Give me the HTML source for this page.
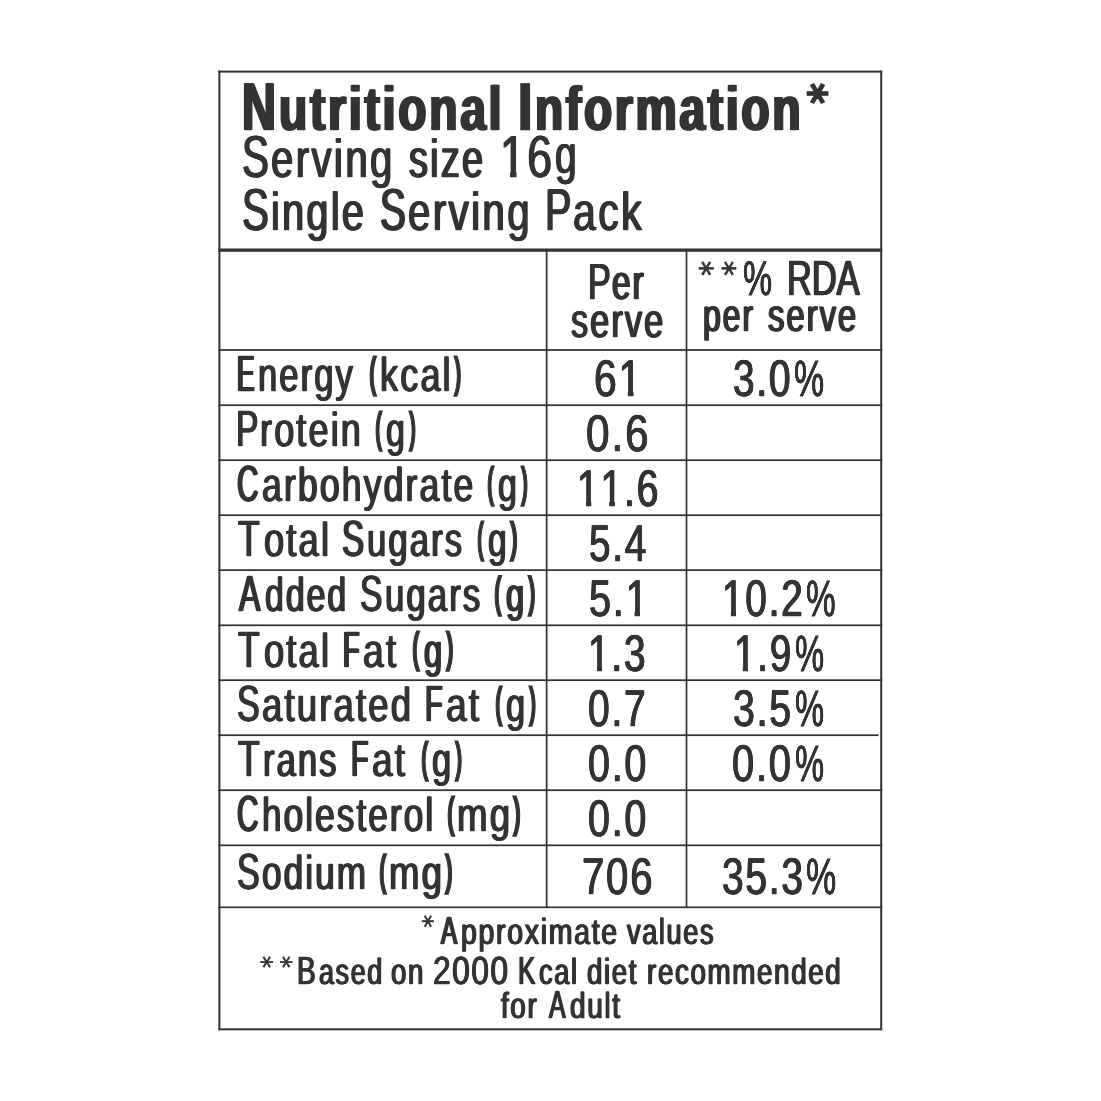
<!DOCTYPE html>
<html lang="en">
<head>
<meta charset="utf-8">
<title>Nutritional Information</title>
<style>
html,body{margin:0;padding:0;background:#ffffff;}
body{width:1101px;height:1101px;position:relative;overflow:hidden;font-family:"Liberation Sans",sans-serif;color:#333333;}
.rules{position:absolute;left:0;top:0;display:block;}
.label,.head,.cols,.rows,.row,.cell,.line,.foot{position:static;margin:0;padding:0;}
.t{position:absolute;white-space:pre;line-height:1;transform-origin:0 0;margin:0;padding:0;font-weight:400;text-rendering:geometricPrecision;}
.b{font-weight:700;}
.o{display:inline-block;clip-path:polygon(0 0,100% 0,100% .725em,.361em .725em,.361em 100%,.231em 100%,.231em .725em,0 .725em);}
</style>
</head>
<body>
<svg class="rules" width="1101" height="1101" viewBox="0 0 1101 1101" aria-hidden="true"><g fill="#333333"><rect x="218.40" y="70.60" width="663.80" height="2.00"/><rect x="218.40" y="1028.30" width="663.80" height="2.00"/><rect x="218.40" y="70.60" width="2.00" height="959.70"/><rect x="880.20" y="70.60" width="2.00" height="959.70"/><rect x="218.40" y="248.50" width="663.80" height="3.30"/><rect x="218.40" y="349.12" width="663.80" height="1.76"/><rect x="218.40" y="404.32" width="663.80" height="1.75"/><rect x="218.40" y="459.32" width="663.80" height="1.75"/><rect x="218.40" y="514.33" width="663.80" height="1.75"/><rect x="218.40" y="569.27" width="663.80" height="1.75"/><rect x="218.40" y="624.42" width="663.80" height="1.75"/><rect x="218.40" y="679.33" width="663.80" height="1.75"/><rect x="218.40" y="734.33" width="660.10" height="1.75"/><rect x="218.40" y="789.33" width="663.80" height="1.75"/><rect x="218.40" y="844.42" width="663.80" height="1.75"/><rect x="218.40" y="906.42" width="663.80" height="1.75"/><rect x="545.77" y="250.00" width="1.75" height="657.30"/><rect x="685.62" y="250.00" width="1.75" height="657.30"/></g></svg>
<main class="label">
<header class="head">
<div class="line title"><span class="t b" style="left:242px;top:73px;font-size:68px;transform:scale(0.6909,1);-webkit-text-stroke:0.3px #333333;text-shadow:1.88px 0 0 #333333,-1.88px 0 0 #333333;">N</span><span class="t b" style="left:279px;top:79px;font-size:62.25px;transform:scale(0.7421,1);-webkit-text-stroke:0.3px #333333;text-shadow:1.82px 0 0 #333333,-1.82px 0 0 #333333;letter-spacing:0.06em;">utritional</span> <span class="t b" style="left:516px;top:73px;font-size:68px;transform:scale(0.9737,1);-webkit-text-stroke:0.3px #333333;">I</span><span class="t b" style="left:535px;top:79px;font-size:62.25px;transform:scale(0.7403,1);-webkit-text-stroke:0.3px #333333;text-shadow:1.82px 0 0 #333333,-1.82px 0 0 #333333;letter-spacing:0.06em;">nformation</span><span class="t b" style="left:832px;top:83px;font-size:70px;transform:scale(0.632,0.5742) rotate(90deg);font-family:'DejaVu Sans',sans-serif;-webkit-text-stroke:2.2px #333333;">*</span></div>
<div class="line"><span class="t" style="left:242px;top:127px;font-size:59.25px;transform:scale(0.6814,1);-webkit-text-stroke:0.3px #333333;text-shadow:1.25px 0 0 #333333,-1.25px 0 0 #333333;">S</span><span class="t" style="left:271px;top:133px;font-size:53.5px;transform:scale(0.75,1);-webkit-text-stroke:0.3px #333333;text-shadow:1.13px 0 0 #333333,-1.13px 0 0 #333333;letter-spacing:0.06em;">erving</span> <span class="t" style="left:409px;top:133px;font-size:53.5px;transform:scale(0.7067,1);-webkit-text-stroke:0.3px #333333;text-shadow:1.34px 0 0 #333333,-1.34px 0 0 #333333;letter-spacing:0.06em;">size</span> <span class="t" style="left:500px;top:127px;font-size:59.25px;transform:scale(0.7596,1);-webkit-text-stroke:0.3px #333333;text-shadow:0.86px 0 0 #333333,-0.86px 0 0 #333333;letter-spacing:0.045em;"><span class="o">1</span>6</span><span class="t" style="left:555px;top:128px;font-size:53px;transform:scale(0.735,1.0187);-webkit-text-stroke:0.3px #333333;text-shadow:1.09px 0 0 #333333,-1.09px 0 0 #333333;">g</span></div>
<div class="line"><span class="t" style="left:242px;top:180px;font-size:59.25px;transform:scale(0.6814,1);-webkit-text-stroke:0.3px #333333;text-shadow:1.25px 0 0 #333333,-1.25px 0 0 #333333;">S</span><span class="t" style="left:271px;top:186px;font-size:53.5px;transform:scale(0.738,1);-webkit-text-stroke:0.3px #333333;text-shadow:1.15px 0 0 #333333,-1.15px 0 0 #333333;letter-spacing:0.06em;">ingle</span> <span class="t" style="left:380px;top:180px;font-size:59.25px;transform:scale(0.6529,1);-webkit-text-stroke:0.3px #333333;text-shadow:1.38px 0 0 #333333,-1.38px 0 0 #333333;">S</span><span class="t" style="left:408px;top:186px;font-size:53.5px;transform:scale(0.7518,1);-webkit-text-stroke:0.3px #333333;text-shadow:1.13px 0 0 #333333,-1.13px 0 0 #333333;letter-spacing:0.06em;">erving</span> <span class="t" style="left:545px;top:180px;font-size:59.25px;transform:scale(0.6706,1);-webkit-text-stroke:0.3px #333333;text-shadow:1.27px 0 0 #333333,-1.27px 0 0 #333333;">P</span><span class="t" style="left:573px;top:186px;font-size:53.5px;transform:scale(0.7649,1);-webkit-text-stroke:0.3px #333333;text-shadow:1.05px 0 0 #333333,-1.05px 0 0 #333333;letter-spacing:0.06em;">ack</span></div>
</header>
<div class="cols">
<div class="cell"></div>
<div class="cell"><span class="t" style="left:588px;top:257px;font-size:50.75px;transform:scale(0.6746,1);-webkit-text-stroke:0.3px #333333;text-shadow:1.26px 0 0 #333333,-1.26px 0 0 #333333;">P</span><span class="t" style="left:612px;top:259px;font-size:49px;transform:scale(0.6793,1);-webkit-text-stroke:0.3px #333333;text-shadow:1.32px 0 0 #333333,-1.32px 0 0 #333333;letter-spacing:0.06em;">er</span> <span class="t" style="left:571px;top:298px;font-size:48px;transform:scale(0.7148,1);-webkit-text-stroke:0.3px #333333;text-shadow:1.19px 0 0 #333333,-1.19px 0 0 #333333;letter-spacing:0.06em;">serve</span></div>
<div class="cell"><span class="t" style="left:716px;top:261px;font-size:48px;transform:scale(0.6565,0.615) rotate(90deg);font-family:'DejaVu Sans',sans-serif;-webkit-text-stroke:1.2px #333333;">*</span><span class="t" style="left:739px;top:261px;font-size:48px;transform:scale(0.6466,0.615) rotate(90deg);font-family:'DejaVu Sans',sans-serif;-webkit-text-stroke:1.2px #333333;">*</span><span class="t" style="left:743px;top:255px;font-size:48.75px;transform:scale(0.6715,1);-webkit-text-stroke:0.9px #333333;text-shadow:0.15px 0 0 #333333,-0.15px 0 0 #333333;">%</span> <span class="t" style="left:787px;top:254px;font-size:49.5px;transform:scale(0.6943,1);-webkit-text-stroke:0.3px #333333;text-shadow:1.22px 0 0 #333333,-1.22px 0 0 #333333;">RDA</span> <span class="t" style="left:703px;top:292px;font-size:46px;transform:scale(0.6939,1);-webkit-text-stroke:0.3px #333333;text-shadow:1.37px 0 0 #333333,-1.37px 0 0 #333333;letter-spacing:0.06em;">per</span> <span class="t" style="left:768px;top:292px;font-size:46px;transform:scale(0.714,1);-webkit-text-stroke:0.3px #333333;text-shadow:1.26px 0 0 #333333,-1.26px 0 0 #333333;letter-spacing:0.06em;">serve</span></div>
</div>
<div class="rows">
<div class="row">
<div class="cell"><span class="t" style="left:237px;top:348px;font-size:51px;transform:scale(0.5109,1);-webkit-text-stroke:0.3px #333333;text-shadow:2.35px 0 0 #333333,-2.35px 0 0 #333333;">E</span><span class="t" style="left:258px;top:352px;font-size:47.5px;transform:scale(0.7277,1);-webkit-text-stroke:0.3px #333333;text-shadow:1.1px 0 0 #333333,-1.1px 0 0 #333333;letter-spacing:0.06em;">nergy</span> <span class="t b" style="left:369px;top:353px;font-size:48px;transform:scale(0.4729,0.8835);-webkit-text-stroke:2px #333333;">(</span><span class="t" style="left:380px;top:352px;font-size:47.5px;transform:scale(0.7591,1);-webkit-text-stroke:0.3px #333333;text-shadow:0.99px 0 0 #333333,-0.99px 0 0 #333333;letter-spacing:0.06em;">kcal</span><span class="t b" style="left:454px;top:353px;font-size:48px;transform:scale(0.4669,0.8835);-webkit-text-stroke:2px #333333;">)</span></div>
<div class="cell"><span class="t" style="left:594px;top:353px;font-size:51.5px;transform:scale(0.7916,1);-webkit-text-stroke:0.6px #333333;text-shadow:0.57px 0 0 #333333,-0.57px 0 0 #333333;letter-spacing:0.045em;">6<span class="o">1</span></span></div>
<div class="cell"><span class="t" style="left:733px;top:353px;font-size:51.5px;transform:scale(0.7543,1);-webkit-text-stroke:0.6px #333333;text-shadow:0.73px 0 0 #333333,-0.73px 0 0 #333333;letter-spacing:0.045em;">3.0</span><span class="t" style="left:794px;top:353px;font-size:51px;transform:scale(0.6651,1);-webkit-text-stroke:0.9px #333333;text-shadow:0.15px 0 0 #333333,-0.15px 0 0 #333333;">%</span></div>
</div>
<div class="row">
<div class="cell"><span class="t" style="left:236px;top:403px;font-size:51px;transform:scale(0.6604,1);-webkit-text-stroke:0.3px #333333;text-shadow:1.29px 0 0 #333333,-1.29px 0 0 #333333;">P</span><span class="t" style="left:260px;top:407px;font-size:47.5px;transform:scale(0.7575,1);-webkit-text-stroke:0.3px #333333;text-shadow:0.99px 0 0 #333333,-0.99px 0 0 #333333;letter-spacing:0.06em;">rotein</span> <span class="t b" style="left:375px;top:408px;font-size:48px;transform:scale(0.4491,0.8777);-webkit-text-stroke:2px #333333;">(</span><span class="t" style="left:386px;top:407px;font-size:47.5px;transform:scale(0.7139,1);-webkit-text-stroke:0.3px #333333;text-shadow:1.19px 0 0 #333333,-1.19px 0 0 #333333;letter-spacing:0.06em;">g</span><span class="t b" style="left:409px;top:408px;font-size:48px;transform:scale(0.4416,0.8777);-webkit-text-stroke:2px #333333;">)</span></div>
<div class="cell"><span class="t" style="left:586px;top:408px;font-size:51.5px;transform:scale(0.8215,1);-webkit-text-stroke:0.6px #333333;text-shadow:0.49px 0 0 #333333,-0.49px 0 0 #333333;letter-spacing:0.045em;">0.6</span></div>
<div class="cell"></div>
</div>
<div class="row">
<div class="cell"><span class="t" style="left:237px;top:458px;font-size:51px;transform:scale(0.5832,1);-webkit-text-stroke:0.3px #333333;text-shadow:1.8px 0 0 #333333,-1.8px 0 0 #333333;">C</span><span class="t" style="left:262px;top:462px;font-size:47.5px;transform:scale(0.7493,1);-webkit-text-stroke:0.3px #333333;text-shadow:1.07px 0 0 #333333,-1.07px 0 0 #333333;letter-spacing:0.06em;">arbohydrate</span> <span class="t b" style="left:487px;top:463px;font-size:48px;transform:scale(0.4491,0.8777);-webkit-text-stroke:2px #333333;">(</span><span class="t" style="left:498px;top:462px;font-size:47.5px;transform:scale(0.7139,1);-webkit-text-stroke:0.3px #333333;text-shadow:1.19px 0 0 #333333,-1.19px 0 0 #333333;letter-spacing:0.06em;">g</span><span class="t b" style="left:521px;top:463px;font-size:48px;transform:scale(0.4416,0.8777);-webkit-text-stroke:2px #333333;">)</span></div>
<div class="cell"><span class="t" style="left:577px;top:463px;font-size:51.5px;transform:scale(0.7595,1);-webkit-text-stroke:0.6px #333333;text-shadow:0.72px 0 0 #333333,-0.72px 0 0 #333333;letter-spacing:0.045em;"><span class="o">1</span><span class="o">1</span>.6</span></div>
<div class="cell"></div>
</div>
<div class="row">
<div class="cell"><span class="t" style="left:238px;top:513px;font-size:51px;transform:scale(0.695,1);-webkit-text-stroke:0.3px #333333;text-shadow:1.15px 0 0 #333333,-1.15px 0 0 #333333;">T</span><span class="t" style="left:264px;top:517px;font-size:47.5px;transform:scale(0.763,1);-webkit-text-stroke:0.3px #333333;text-shadow:0.98px 0 0 #333333,-0.98px 0 0 #333333;letter-spacing:0.06em;">otal</span> <span class="t" style="left:342px;top:513px;font-size:51px;transform:scale(0.6493,1);-webkit-text-stroke:0.3px #333333;text-shadow:1.39px 0 0 #333333,-1.39px 0 0 #333333;">S</span><span class="t" style="left:367px;top:517px;font-size:47.5px;transform:scale(0.7302,1);-webkit-text-stroke:0.3px #333333;text-shadow:1.1px 0 0 #333333,-1.1px 0 0 #333333;letter-spacing:0.06em;">ugars</span> <span class="t b" style="left:477px;top:518px;font-size:48px;transform:scale(0.4342,0.8777);-webkit-text-stroke:2px #333333;">(</span><span class="t" style="left:488px;top:517px;font-size:47.5px;transform:scale(0.7049,1);-webkit-text-stroke:0.3px #333333;text-shadow:1.21px 0 0 #333333,-1.21px 0 0 #333333;letter-spacing:0.06em;">g</span><span class="t b" style="left:510px;top:518px;font-size:48px;transform:scale(0.4912,0.8777);-webkit-text-stroke:2px #333333;">)</span></div>
<div class="cell"><span class="t" style="left:589px;top:518px;font-size:51.5px;transform:scale(0.7512,1);-webkit-text-stroke:0.6px #333333;text-shadow:0.73px 0 0 #333333,-0.73px 0 0 #333333;letter-spacing:0.045em;">5.4</span></div>
<div class="cell"></div>
</div>
<div class="row">
<div class="cell"><span class="t" style="left:239px;top:568px;font-size:51px;transform:scale(0.6262,1);-webkit-text-stroke:0.3px #333333;text-shadow:1.52px 0 0 #333333,-1.52px 0 0 #333333;">A</span><span class="t" style="left:265px;top:572px;font-size:47.5px;transform:scale(0.7098,1);-webkit-text-stroke:0.3px #333333;text-shadow:1.2px 0 0 #333333,-1.2px 0 0 #333333;letter-spacing:0.06em;">dded</span> <span class="t" style="left:360px;top:568px;font-size:51px;transform:scale(0.6601,1);-webkit-text-stroke:0.3px #333333;text-shadow:1.29px 0 0 #333333,-1.29px 0 0 #333333;">S</span><span class="t" style="left:385px;top:572px;font-size:47.5px;transform:scale(0.731,1);-webkit-text-stroke:0.3px #333333;text-shadow:1.09px 0 0 #333333,-1.09px 0 0 #333333;letter-spacing:0.06em;">ugars</span> <span class="t b" style="left:494px;top:572px;font-size:48px;transform:scale(0.4761,0.8925);-webkit-text-stroke:2px #333333;">(</span><span class="t" style="left:506px;top:572px;font-size:47.5px;transform:scale(0.6866,1);-webkit-text-stroke:0.3px #333333;text-shadow:1.31px 0 0 #333333,-1.31px 0 0 #333333;letter-spacing:0.06em;">g</span><span class="t b" style="left:528px;top:572px;font-size:48px;transform:scale(0.4754,0.8925);-webkit-text-stroke:2px #333333;">)</span></div>
<div class="cell"><span class="t" style="left:589px;top:573px;font-size:51.5px;transform:scale(0.77,1);-webkit-text-stroke:0.6px #333333;text-shadow:0.65px 0 0 #333333,-0.65px 0 0 #333333;letter-spacing:0.045em;">5.<span class="o">1</span></span></div>
<div class="cell"><span class="t" style="left:722px;top:573px;font-size:51.5px;transform:scale(0.7529,1);-webkit-text-stroke:0.6px #333333;text-shadow:0.73px 0 0 #333333,-0.73px 0 0 #333333;letter-spacing:0.045em;"><span class="o">1</span>0.2</span><span class="t" style="left:806px;top:573px;font-size:51px;transform:scale(0.6537,1);-webkit-text-stroke:0.9px #333333;text-shadow:0.15px 0 0 #333333,-0.15px 0 0 #333333;">%</span></div>
</div>
<div class="row">
<div class="cell"><span class="t" style="left:238px;top:624px;font-size:51px;transform:scale(0.695,1);-webkit-text-stroke:0.3px #333333;text-shadow:1.15px 0 0 #333333,-1.15px 0 0 #333333;">T</span><span class="t" style="left:264px;top:628px;font-size:47.5px;transform:scale(0.763,1);-webkit-text-stroke:0.3px #333333;text-shadow:0.98px 0 0 #333333,-0.98px 0 0 #333333;letter-spacing:0.06em;">otal</span> <span class="t" style="left:343px;top:624px;font-size:51px;transform:scale(0.5266,1);-webkit-text-stroke:0.3px #333333;text-shadow:2.18px 0 0 #333333,-2.18px 0 0 #333333;">F</span><span class="t" style="left:363px;top:628px;font-size:47.5px;transform:scale(0.7828,1);-webkit-text-stroke:0.3px #333333;text-shadow:0.89px 0 0 #333333,-0.89px 0 0 #333333;letter-spacing:0.06em;">at</span> <span class="t b" style="left:412px;top:628px;font-size:48px;transform:scale(0.4808,0.8812);-webkit-text-stroke:2px #333333;">(</span><span class="t" style="left:424px;top:628px;font-size:47.5px;transform:scale(0.6866,1);-webkit-text-stroke:0.3px #333333;text-shadow:1.31px 0 0 #333333,-1.31px 0 0 #333333;letter-spacing:0.06em;">g</span><span class="t b" style="left:446px;top:628px;font-size:48px;transform:scale(0.4782,0.8812);-webkit-text-stroke:2px #333333;">)</span></div>
<div class="cell"><span class="t" style="left:588px;top:628px;font-size:51.5px;transform:scale(0.7543,1);-webkit-text-stroke:0.6px #333333;text-shadow:0.73px 0 0 #333333,-0.73px 0 0 #333333;letter-spacing:0.045em;"><span class="o">1</span>.3</span></div>
<div class="cell"><span class="t" style="left:734px;top:628px;font-size:51.5px;transform:scale(0.751,1);-webkit-text-stroke:0.6px #333333;text-shadow:0.73px 0 0 #333333,-0.73px 0 0 #333333;letter-spacing:0.045em;"><span class="o">1</span>.9</span><span class="t" style="left:795px;top:628px;font-size:51px;transform:scale(0.6426,1);-webkit-text-stroke:0.9px #333333;text-shadow:0.16px 0 0 #333333,-0.16px 0 0 #333333;">%</span></div>
</div>
<div class="row">
<div class="cell"><span class="t" style="left:237px;top:678px;font-size:51px;transform:scale(0.6679,1);-webkit-text-stroke:0.3px #333333;text-shadow:1.27px 0 0 #333333,-1.27px 0 0 #333333;">S</span><span class="t" style="left:262px;top:682px;font-size:47.5px;transform:scale(0.7673,1);-webkit-text-stroke:0.3px #333333;text-shadow:0.98px 0 0 #333333,-0.98px 0 0 #333333;letter-spacing:0.06em;">aturated</span> <span class="t" style="left:425px;top:678px;font-size:51px;transform:scale(0.5678,1);-webkit-text-stroke:0.3px #333333;text-shadow:1.94px 0 0 #333333,-1.94px 0 0 #333333;">F</span><span class="t" style="left:446px;top:682px;font-size:47.5px;transform:scale(0.7798,1);-webkit-text-stroke:0.3px #333333;text-shadow:0.9px 0 0 #333333,-0.9px 0 0 #333333;letter-spacing:0.06em;">at</span> <span class="t b" style="left:495px;top:683px;font-size:48px;transform:scale(0.4608,0.8777);-webkit-text-stroke:2px #333333;">(</span><span class="t" style="left:506px;top:682px;font-size:47.5px;transform:scale(0.7232,1);-webkit-text-stroke:0.3px #333333;text-shadow:1.18px 0 0 #333333,-1.18px 0 0 #333333;letter-spacing:0.06em;">g</span><span class="t b" style="left:529px;top:683px;font-size:48px;transform:scale(0.4501,0.8777);-webkit-text-stroke:2px #333333;">)</span></div>
<div class="cell"><span class="t" style="left:588px;top:683px;font-size:51.5px;transform:scale(0.7571,1);-webkit-text-stroke:0.6px #333333;text-shadow:0.73px 0 0 #333333,-0.73px 0 0 #333333;letter-spacing:0.045em;">0.7</span></div>
<div class="cell"><span class="t" style="left:733px;top:683px;font-size:51.5px;transform:scale(0.7631,1);-webkit-text-stroke:0.6px #333333;text-shadow:0.72px 0 0 #333333,-0.72px 0 0 #333333;letter-spacing:0.045em;">3.5</span><span class="t" style="left:795px;top:683px;font-size:51px;transform:scale(0.6426,1);-webkit-text-stroke:0.9px #333333;text-shadow:0.16px 0 0 #333333,-0.16px 0 0 #333333;">%</span></div>
</div>
<div class="row">
<div class="cell"><span class="t" style="left:238px;top:733px;font-size:51px;transform:scale(0.695,1);-webkit-text-stroke:0.3px #333333;text-shadow:1.15px 0 0 #333333,-1.15px 0 0 #333333;">T</span><span class="t" style="left:263px;top:737px;font-size:47.5px;transform:scale(0.7276,1);-webkit-text-stroke:0.3px #333333;text-shadow:1.1px 0 0 #333333,-1.1px 0 0 #333333;letter-spacing:0.06em;">rans</span> <span class="t" style="left:351px;top:733px;font-size:51px;transform:scale(0.5609,1);-webkit-text-stroke:0.3px #333333;text-shadow:1.96px 0 0 #333333,-1.96px 0 0 #333333;">F</span><span class="t" style="left:372px;top:737px;font-size:47.5px;transform:scale(0.7786,1);-webkit-text-stroke:0.3px #333333;text-shadow:0.9px 0 0 #333333,-0.9px 0 0 #333333;letter-spacing:0.06em;">at</span> <span class="t b" style="left:421px;top:738px;font-size:48px;transform:scale(0.4598,0.8777);-webkit-text-stroke:2px #333333;">(</span><span class="t" style="left:432px;top:737px;font-size:47.5px;transform:scale(0.7268,1);-webkit-text-stroke:0.3px #333333;text-shadow:1.1px 0 0 #333333,-1.1px 0 0 #333333;letter-spacing:0.06em;">g</span><span class="t b" style="left:455px;top:738px;font-size:48px;transform:scale(0.4551,0.8777);-webkit-text-stroke:2px #333333;">)</span></div>
<div class="cell"><span class="t" style="left:588px;top:738px;font-size:51.5px;transform:scale(0.765,1);-webkit-text-stroke:0.6px #333333;text-shadow:0.72px 0 0 #333333,-0.72px 0 0 #333333;letter-spacing:0.045em;">0.0</span></div>
<div class="cell"><span class="t" style="left:732px;top:738px;font-size:51.5px;transform:scale(0.7743,1);-webkit-text-stroke:0.6px #333333;text-shadow:0.65px 0 0 #333333,-0.65px 0 0 #333333;letter-spacing:0.045em;">0.0</span><span class="t" style="left:795px;top:738px;font-size:51px;transform:scale(0.6426,1);-webkit-text-stroke:0.9px #333333;text-shadow:0.16px 0 0 #333333,-0.16px 0 0 #333333;">%</span></div>
</div>
<div class="row">
<div class="cell"><span class="t" style="left:237px;top:788px;font-size:51px;transform:scale(0.5832,1);-webkit-text-stroke:0.3px #333333;text-shadow:1.8px 0 0 #333333,-1.8px 0 0 #333333;">C</span><span class="t" style="left:262px;top:792px;font-size:47.5px;transform:scale(0.7389,1);-webkit-text-stroke:0.3px #333333;text-shadow:1.08px 0 0 #333333,-1.08px 0 0 #333333;letter-spacing:0.06em;">holesterol</span> <span class="t b" style="left:447px;top:793px;font-size:48px;transform:scale(0.4808,0.8777);-webkit-text-stroke:2px #333333;">(</span><span class="t" style="left:457px;top:792px;font-size:47.5px;transform:scale(0.7704,1);-webkit-text-stroke:0.3px #333333;text-shadow:0.97px 0 0 #333333,-0.97px 0 0 #333333;letter-spacing:0.06em;">mg</span><span class="t b" style="left:513px;top:793px;font-size:48px;transform:scale(0.4929,0.8777);-webkit-text-stroke:2px #333333;">)</span></div>
<div class="cell"><span class="t" style="left:588px;top:793px;font-size:51.5px;transform:scale(0.765,1);-webkit-text-stroke:0.6px #333333;text-shadow:0.72px 0 0 #333333,-0.72px 0 0 #333333;letter-spacing:0.045em;">0.0</span></div>
<div class="cell"></div>
</div>
<div class="row">
<div class="cell"><span class="t" style="left:237px;top:846px;font-size:51px;transform:scale(0.6679,1);-webkit-text-stroke:0.3px #333333;text-shadow:1.27px 0 0 #333333,-1.27px 0 0 #333333;">S</span><span class="t" style="left:262px;top:850px;font-size:47.5px;transform:scale(0.739,1);-webkit-text-stroke:0.3px #333333;text-shadow:1.08px 0 0 #333333,-1.08px 0 0 #333333;letter-spacing:0.06em;">odium</span> <span class="t b" style="left:379px;top:850px;font-size:48px;transform:scale(0.4729,0.8891);-webkit-text-stroke:2px #333333;">(</span><span class="t" style="left:389px;top:850px;font-size:47.5px;transform:scale(0.7692,1);-webkit-text-stroke:0.3px #333333;text-shadow:0.98px 0 0 #333333,-0.98px 0 0 #333333;letter-spacing:0.06em;">mg</span><span class="t b" style="left:445px;top:850px;font-size:48px;transform:scale(0.4872,0.8891);-webkit-text-stroke:2px #333333;">)</span></div>
<div class="cell"><span class="t" style="left:582px;top:851px;font-size:51.5px;transform:scale(0.779,1);-webkit-text-stroke:0.6px #333333;text-shadow:0.64px 0 0 #333333,-0.64px 0 0 #333333;letter-spacing:0.045em;">706</span></div>
<div class="cell"><span class="t" style="left:722px;top:851px;font-size:51.5px;transform:scale(0.7553,1);-webkit-text-stroke:0.6px #333333;text-shadow:0.73px 0 0 #333333,-0.73px 0 0 #333333;letter-spacing:0.045em;">35.3</span><span class="t" style="left:806px;top:851px;font-size:51px;transform:scale(0.6674,1);-webkit-text-stroke:0.9px #333333;text-shadow:0.15px 0 0 #333333,-0.15px 0 0 #333333;">%</span></div>
</div>
</div>
<footer class="foot">
<div class="line"><span class="t" style="left:436px;top:915px;font-size:40px;transform:scale(0.6246,0.6237) rotate(90deg);font-family:'DejaVu Sans',sans-serif;-webkit-text-stroke:1px #333333;">*</span><span class="t" style="left:441px;top:912px;font-size:39.25px;transform:scale(0.6135,1);-webkit-text-stroke:0.3px #333333;text-shadow:1.47px 0 0 #333333,-1.47px 0 0 #333333;">A</span><span class="t" style="left:461px;top:914px;font-size:36.25px;transform:scale(0.7849,1);-webkit-text-stroke:0.3px #333333;text-shadow:0.89px 0 0 #333333,-0.89px 0 0 #333333;letter-spacing:0.06em;">pproximate</span> <span class="t" style="left:627px;top:914px;font-size:36.25px;transform:scale(0.7476,1);-webkit-text-stroke:0.3px #333333;text-shadow:1px 0 0 #333333,-1px 0 0 #333333;letter-spacing:0.06em;">values</span></div>
<div class="line"><span class="t" style="left:275px;top:956px;font-size:40px;transform:scale(0.6659,0.5986) rotate(90deg);font-family:'DejaVu Sans',sans-serif;-webkit-text-stroke:1px #333333;">*</span><span class="t" style="left:294px;top:956px;font-size:40px;transform:scale(0.6437,0.5986) rotate(90deg);font-family:'DejaVu Sans',sans-serif;-webkit-text-stroke:1px #333333;">*</span><span class="t" style="left:297px;top:952px;font-size:39.25px;transform:scale(0.7132,1);-webkit-text-stroke:0.3px #333333;text-shadow:0.98px 0 0 #333333,-0.98px 0 0 #333333;">B</span><span class="t" style="left:319px;top:954px;font-size:36.25px;transform:scale(0.7421,1);-webkit-text-stroke:0.3px #333333;text-shadow:1.01px 0 0 #333333,-1.01px 0 0 #333333;letter-spacing:0.06em;">ased</span> <span class="t" style="left:391px;top:954px;font-size:36.25px;transform:scale(0.7611,1);-webkit-text-stroke:0.3px #333333;text-shadow:0.99px 0 0 #333333,-0.99px 0 0 #333333;letter-spacing:0.06em;">on</span> <span class="t" style="left:433px;top:952px;font-size:39.25px;transform:scale(0.8103,1);-webkit-text-stroke:0.3px #333333;text-shadow:0.68px 0 0 #333333,-0.68px 0 0 #333333;letter-spacing:0.045em;">2000</span> <span class="t" style="left:518px;top:952px;font-size:39.25px;transform:scale(0.6652,1);-webkit-text-stroke:0.3px #333333;text-shadow:1.2px 0 0 #333333,-1.2px 0 0 #333333;">K</span><span class="t" style="left:539px;top:954px;font-size:36.25px;transform:scale(0.7494,1);-webkit-text-stroke:0.3px #333333;text-shadow:1px 0 0 #333333,-1px 0 0 #333333;letter-spacing:0.06em;">cal</span> <span class="t" style="left:587px;top:954px;font-size:36.25px;transform:scale(0.7611,1);-webkit-text-stroke:0.3px #333333;text-shadow:0.99px 0 0 #333333,-0.99px 0 0 #333333;letter-spacing:0.06em;">diet</span> <span class="t" style="left:647px;top:954px;font-size:36.25px;transform:scale(0.7644,1);-webkit-text-stroke:0.3px #333333;text-shadow:0.98px 0 0 #333333,-0.98px 0 0 #333333;letter-spacing:0.06em;">recommended</span></div>
<div class="line"><span class="t" style="left:501px;top:988px;font-size:36.25px;transform:scale(0.7644,1);-webkit-text-stroke:0.3px #333333;text-shadow:0.98px 0 0 #333333,-0.98px 0 0 #333333;letter-spacing:0.06em;">for</span> <span class="t" style="left:549px;top:986px;font-size:39.25px;transform:scale(0.6318,1);-webkit-text-stroke:0.3px #333333;text-shadow:1.35px 0 0 #333333,-1.35px 0 0 #333333;">A</span><span class="t" style="left:570px;top:988px;font-size:36.25px;transform:scale(0.7706,1);-webkit-text-stroke:0.3px #333333;text-shadow:0.91px 0 0 #333333,-0.91px 0 0 #333333;letter-spacing:0.06em;">dult</span></div>
</footer>
</main>
</body>
</html>
